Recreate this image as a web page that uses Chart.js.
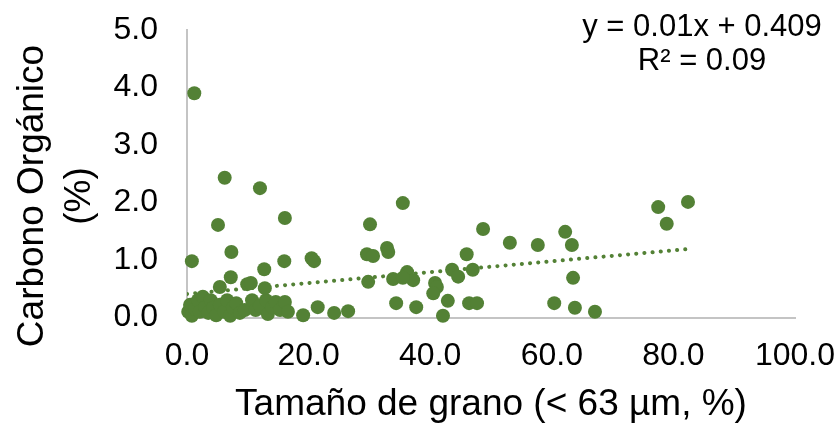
<!DOCTYPE html>
<html>
<head>
<meta charset="utf-8">
<script src="https://cdn.jsdelivr.net/npm/chart.js@4.4.1/dist/chart.umd.min.js"></script>
<style>
  html, body { margin: 0; padding: 0; background: #fff; }
  #wrap { width: 839px; height: 423px; }
</style>
</head>
<body>
<div id="wrap"><canvas id="cc" width="839" height="423"></canvas></div>
<script>
/* Carbono orgánico vs. tamaño de grano (< 63 µm) – dispersión con tendencia lineal */

// tamaño de grano (%) y carbono orgánico (%) por muestra
var GRANO = [
  0.2, 0.5, 0.8, 1.3, 1.8, 2.1, 2.6, 3.0, 3.5, 3.9, 4.3, 4.8, 5.4, 6.1, 6.6, 7.1, 7.6, 8.1, 8.7, 9.5,
  10.7, 11.3, 12.0, 13.0, 13.3, 14.0, 14.6, 15.3, 16.1, 16.6, 19.1, 21.5, 24.2, 26.5,
  1.2, 6.2, 12.0, 35.5, 5.1, 16.1, 30.1, 0.8, 7.3, 12.7, 16.0, 20.5, 20.9, 7.2, 5.4, 9.9,
  10.5, 12.8, 29.8, 29.6, 30.6, 32.9, 33.1, 48.7, 46.0, 47.0, 33.9, 36.2, 37.2, 35.5, 40.8, 41.1,
  40.5, 43.6, 44.6, 34.4, 37.7, 42.9, 42.1, 46.4, 47.7, 53.1, 57.7, 62.2, 63.3, 63.5, 60.4, 63.8,
  67.1, 77.5, 82.4, 78.9
];
var CARBONO = [
  0.10, 0.22, 0.03, 0.15, 0.30, 0.10, 0.36, 0.18, 0.08, 0.30, 0.17, 0.04, 0.22, 0.10, 0.30, 0.03, 0.17, 0.25, 0.08, 0.13,
  0.30, 0.13, 0.20, 0.30, 0.06, 0.18, 0.27, 0.13, 0.27, 0.10, 0.04, 0.18, 0.08, 0.11,
  3.90, 2.43, 2.25, 1.99, 1.61, 1.73, 1.62, 0.98, 1.14, 0.84, 0.98, 1.03, 0.98, 0.70, 0.53, 0.58,
  0.60, 0.51, 0.62, 1.10, 1.07, 1.21, 1.14, 1.54, 1.10, 0.83, 0.67, 0.79, 0.65, 0.69, 0.60, 0.53,
  0.42, 0.83, 0.71, 0.25, 0.18, 0.29, 0.03, 0.25, 0.25, 1.30, 1.26, 1.49, 1.26, 0.69, 0.25, 0.17,
  0.10, 1.92, 2.01, 1.63
];

// extremos de la línea de tendencia
var TEND_X = [0, 82.4];
var TEND_Y = [0.41, 1.19];

var TICKS_X = [0, 20, 40, 60, 80, 100];
var TICKS_Y = [0, 1, 2, 3, 4, 5];

var TITULO_X = 'Tamaño de grano (< 63 µm, %)';
var TITULO_Y = ['Carbono Orgánico', '(%)'];
var ECUACION = ['y = 0.01x + 0.409', 'R² = 0.09'];

var VERDE = '#538135';
var FUENTE = '"Liberation Sans", Arial, sans-serif';

function pares(xs, ys) {
  return xs.map(function (x, i) { return { x: x, y: ys[i] }; });
}

// título del eje Y (dos líneas) y ecuación de la tendencia
var textos = {
  id: 'textos',
  afterDraw: function (chart) {
    var ctx = chart.ctx;
    ctx.save();
    ctx.fillStyle = '#000';
    ctx.textAlign = 'center';
    ctx.textBaseline = 'middle';
    ctx.font = '31px ' + FUENTE;
    ctx.fillText(ECUACION[0], 702, 27);
    ctx.fillText(ECUACION[1], 702, 61);
    ctx.translate(0, 196);
    ctx.rotate(-Math.PI / 2);
    ctx.font = '37px ' + FUENTE;
    ctx.fillText(TITULO_Y[0], 0, 33);
    ctx.fillText(TITULO_Y[1], 0, 80);
    ctx.restore();
  }
};

new Chart(document.getElementById('cc').getContext('2d'), {
  type: 'scatter',
  data: {
    datasets: [
      {
        label: 'Carbono',
        data: pares(GRANO, CARBONO),
        backgroundColor: VERDE,
        borderColor: VERDE,
        borderWidth: 0,
        pointRadius: 7,
        clip: false
      },
      {
        label: 'Tendencia',
        data: pares(TEND_X, TEND_Y),
        showLine: true,
        borderColor: VERDE,
        borderWidth: 4,
        borderDash: [0.1, 8.1],
        borderCapStyle: 'round',
        pointRadius: 0,
        fill: false
      }
    ]
  },
  options: {
    responsive: false,
    animation: false,
    events: [],
    layout: { padding: { top: 30, right: 44, bottom: 0, left: 0 } },
    plugins: { legend: { display: false }, tooltip: { enabled: false } },
    scales: {
      x: {
        type: 'linear', min: 0, max: 100,
        afterBuildTicks: function (s) { s.ticks = TICKS_X.map(function (v) { return { value: v }; }); },
        afterFit: function (s) { s.height = 105.5; s.paddingLeft = 0; s.paddingRight = 0; },
        grid: { display: false, drawTicks: false },
        border: { display: true, color: '#c4c4c4', width: 2 },
        ticks: {
          padding: 19, color: '#000', font: { family: FUENTE, size: 32 },
          callback: function (v) { return v.toFixed(1); }
        },
        title: {
          display: true, text: TITULO_X, color: '#000',
          font: { family: FUENTE, size: 37, lineHeight: 1 },
          padding: { top: 0, bottom: 0 }
        }
      },
      y: {
        type: 'linear', min: 0, max: 5,
        afterBuildTicks: function (s) { s.ticks = TICKS_Y.map(function (v) { return { value: v }; }); },
        afterFit: function (s) { s.width = 187; s.paddingTop = 0; s.paddingBottom = 0; },
        grid: { display: false, drawTicks: false },
        border: { display: true, color: '#c4c4c4', width: 2 },
        ticks: {
          padding: 29, color: '#000', font: { family: FUENTE, size: 32 },
          callback: function (v) { return v.toFixed(1); }
        }
      }
    }
  },
  plugins: [textos]
});
</script>
</body>
</html>
